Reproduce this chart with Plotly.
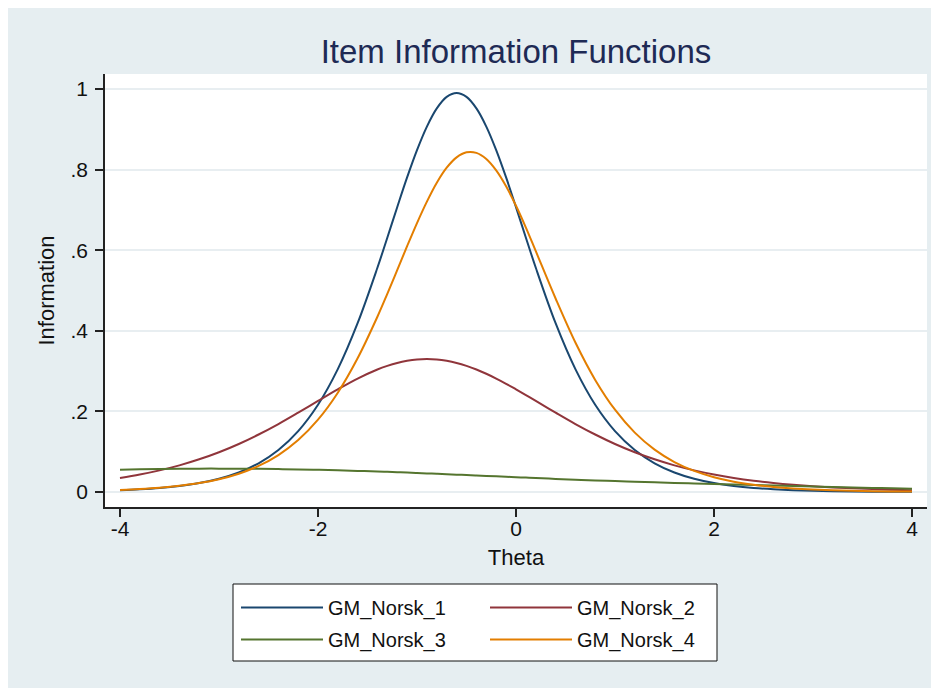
import plotly.graph_objects as go

theta = [-4.0, -3.8, -3.6, -3.4, -3.2, -3.0, -2.8, -2.6, -2.4, -2.2, -2.0, -1.8, -1.6, -1.4,
         -1.3, -1.2, -1.1, -1.0, -0.9, -0.8, -0.7, -0.6, -0.5, -0.4, -0.3, -0.2, -0.1, 0.0, 0.1, 0.2,
         0.4, 0.6, 0.8, 1.0, 1.2, 1.4, 1.6, 1.8, 2.0, 2.2, 2.4, 2.6, 2.8, 3.0, 3.2, 3.4, 3.6, 3.8, 4.0]

gm_norsk_1 = [0.0045, 0.0068, 0.0101, 0.0150, 0.0222, 0.0329, 0.0485, 0.0713, 0.1043, 0.1512, 0.2166, 0.3050, 0.4189, 0.5564,
              0.6310, 0.7067, 0.7805, 0.8483, 0.9067, 0.9518, 0.9803, 0.9900, 0.9803, 0.9518, 0.9067, 0.8483, 0.7805, 0.7067, 0.6310, 0.5564,
              0.4189, 0.3050, 0.2166, 0.1512, 0.1043, 0.0713, 0.0485, 0.0329, 0.0222, 0.0150, 0.0101, 0.0068, 0.0045, 0.0031, 0.0021, 0.0014, 0.0009, 0.0006, 0.0004]

gm_norsk_2 = [0.0349, 0.0434, 0.0537, 0.0661, 0.0811, 0.0987, 0.1192, 0.1427, 0.1687, 0.1969, 0.2260, 0.2547, 0.2815, 0.3040,
              0.3130, 0.3203, 0.3256, 0.3289, 0.3300, 0.3289, 0.3256, 0.3203, 0.3130, 0.3040, 0.2934, 0.2815, 0.2686, 0.2547, 0.2405, 0.2260,
              0.1969, 0.1687, 0.1427, 0.1192, 0.0987, 0.0811, 0.0661, 0.0537, 0.0434, 0.0349, 0.0280, 0.0225, 0.0180, 0.0143, 0.0114, 0.0091, 0.0072, 0.0058, 0.0046]

gm_norsk_3 = [0.0555, 0.0566, 0.0573, 0.0578, 0.0580, 0.0580, 0.0579, 0.0575, 0.0569, 0.0561, 0.0550, 0.0538, 0.0524, 0.0508,
              0.0500, 0.0491, 0.0482, 0.0472, 0.0462, 0.0452, 0.0442, 0.0431, 0.0421, 0.0410, 0.0399, 0.0388, 0.0378, 0.0367, 0.0357, 0.0346,
              0.0325, 0.0305, 0.0285, 0.0271, 0.0255, 0.0240, 0.0225, 0.0212, 0.0200, 0.0187, 0.0174, 0.0161, 0.0148, 0.0136, 0.0124, 0.0113, 0.0102, 0.0091, 0.0080]

gm_norsk_4 = [0.0052, 0.0075, 0.0107, 0.0154, 0.0221, 0.0317, 0.0454, 0.0647, 0.0917, 0.1289, 0.1795, 0.2464, 0.3317, 0.4348,
              0.4917, 0.5506, 0.6099, 0.6674, 0.7206, 0.7674, 0.8046, 0.8303, 0.8429, 0.8415, 0.8262, 0.7979, 0.7584, 0.7102, 0.6560, 0.5975,
              0.4801, 0.3709, 0.2782, 0.2042, 0.1473, 0.1051, 0.0744, 0.0523, 0.0366, 0.0256, 0.0179, 0.0124, 0.0086, 0.0060, 0.0042, 0.0029, 0.0020, 0.0014, 0.0010]

series_names = ["GM_Norsk_1", "GM_Norsk_2", "GM_Norsk_3", "GM_Norsk_4"]
series_values = [gm_norsk_1, gm_norsk_2, gm_norsk_3, gm_norsk_4]
series_colors = ["#1a476f", "#90353b", "#55752f", "#e37e00"]
series_legend = ["legend", "legend2", "legend", "legend2"]

y_tickvals = [0, 0.2, 0.4, 0.6, 0.8, 1]
y_ticktext = ["0", ".2", ".4", ".6", ".8", "1"]
x_tickvals = [-4, -2, 0, 2, 4]
x_ticktext = ["-4", "-2", "0", "2", "4"]

FONT = "Liberation Sans, Arial, sans-serif"
BG = "#e6eef1"

fig = go.Figure()
for name, vals, col, lg in zip(series_names, series_values, series_colors, series_legend):
    fig.add_trace(go.Scatter(
        x=theta, y=vals, mode="lines", name=name, legend=lg, legendgroup=name,
        line=dict(color=col, width=2, shape="spline", smoothing=1.0),
        hoverinfo="skip",
    ))

# page body has an 8px margin; figure pixel = screen pixel - 8
OFF = 8
W, H = 939 - OFF, 688 - OFF
L, R, T, B = 105 - OFF, 939 - 927, 74 - OFF, 688 - 507
pw, ph = W - L - R, H - T - B


def px(xs):
    return (xs - OFF - L) / pw


def py(ys):
    return (H - B - (ys - OFF)) / ph


shapes = [
    # legend box
    dict(type="rect", xref="paper", yref="paper", x0=px(233), x1=px(717), y0=py(661), y1=py(584),
         fillcolor="white", line=dict(color="#111111", width=1), layer="below"),
]

legend_common = dict(
    bgcolor="rgba(0,0,0,0)", borderwidth=0,
    font=dict(family=FONT, size=20, color="#111111"),
    itemwidth=82, tracegroupgap=3, traceorder="grouped",
    orientation="v", xanchor="left", yanchor="top",
)

fig.update_layout(
    width=W, height=H,
    margin=dict(l=L, r=R, t=T, b=B),
    paper_bgcolor=BG, plot_bgcolor="white",
    title=dict(text="Item Information Functions", x=0.5, xref="paper", xanchor="center",
               y=1 - (51 - OFF) / H, yref="container", yanchor="middle",
               font=dict(family=FONT, size=33, color="#1e2a55")),
    xaxis=dict(range=[-4.1515, 4.1515], tickvals=x_tickvals, ticktext=x_ticktext,
               showgrid=False, zeroline=False, showline=True, linecolor="#222222", linewidth=1.5,
               ticks="outside", ticklen=8, tickwidth=1.5, tickcolor="#222222",
               ticklabelstandoff=-6,
               tickfont=dict(family=FONT, size=21, color="#111111"),
               title=dict(text="Theta", font=dict(family=FONT, size=22, color="#111111"), standoff=11)),
    yaxis=dict(range=[-0.0372, 1.0372], tickvals=y_tickvals, ticktext=y_ticktext,
               showgrid=True, gridcolor="#e8eef1", gridwidth=1.5, zeroline=False,
               showline=True, linecolor="#222222", linewidth=1.5,
               ticks="outside", ticklen=8, tickwidth=1.5, tickcolor="#222222",
               ticklabelstandoff=3,
               tickfont=dict(family=FONT, size=21, color="#111111"),
               title=dict(text="Information", font=dict(family=FONT, size=22, color="#111111"), standoff=10)),
    legend=dict(x=px(236), y=py(588), **legend_common),
    legend2=dict(x=px(485), y=py(588), **legend_common),
    shapes=shapes,
    showlegend=True,
)

fig.write_html("out.html")
